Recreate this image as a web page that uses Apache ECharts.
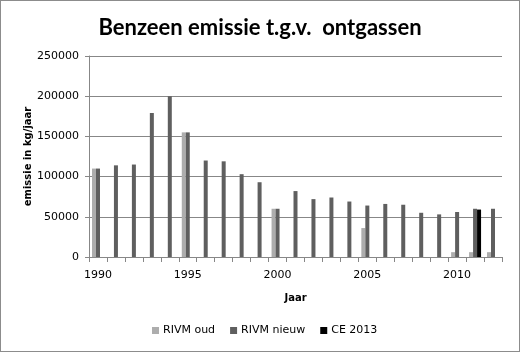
<!DOCTYPE html>
<html>
<head>
<meta charset="utf-8">
<script src="https://cdn.jsdelivr.net/npm/echarts@6/dist/echarts.min.js"></script>
<style>
  html, body { margin: 0; padding: 0; background: #fff; }
  #chart { width: 520px; height: 352px; box-sizing: border-box; border: 1px solid #8c8c8c; }
</style>
</head>
<body>
<div id="chart"></div>
<script>
// jaren 1990 - 2012
var years = ["1990", "1991", "1992", "1993", "1994", "1995", "1996", "1997", "1998", "1999", "2000",
  "2001", "2002", "2003", "2004", "2005", "2006", "2007", "2008", "2009", "2010", "2011", "2012"];

var rivmOud = [110000, null, null, null, null, 155000, null, null, null, null, 60000,
  null, null, null, null, 36000, null, null, null, null, 6000, 6000, 6000];

var rivmNieuw = [110000, 114000, 115000, 179000, 200000, 155000, 120000, 119000, 103000, 93000, 60000,
  82000, 72000, 74000, 69000, 64000, 66000, 65000, 55000, 53000, 56000, 60000, 60000];

var ce2013 = [null, null, null, null, null, null, null, null, null, null, null,
  null, null, null, null, null, null, null, null, null, null, 59000, null];

var chart = echarts.init(document.getElementById("chart"));

var option = {
  animation: false,
  textStyle: { fontFamily: "DejaVu Sans" },
  title: {
    text: "Benzeen emissie t.g.v.  ontgassen",
    left: "center",
    top: 11,
    textStyle: { fontFamily: "Lato", fontWeight: "bold", fontSize: 22, color: "#000" }
  },
  grid: { left: 88, right: 17, top: 55, bottom: 94 },
  legend: {
    bottom: 10,
    left: 146,
    itemWidth: 7,
    itemHeight: 7,
    itemGap: 15,
    icon: "rect",
    textStyle: { fontSize: 11, color: "#000", padding: [0, 0, 0, -1] },
    data: ["RIVM oud", "RIVM nieuw", "CE 2013"]
  },
  xAxis: {
    type: "category",
    data: years,
    name: "Jaar",
    nameLocation: "middle",
    nameGap: 36,
    nameTextStyle: { fontWeight: "bold", fontSize: 10, color: "#000" },
    axisLine: { lineStyle: { color: "#878787" } },
    axisTick: { show: true, interval: 0, length: 5, lineStyle: { color: "#878787" } },
    axisLabel: { interval: 4, fontSize: 11, color: "#000", margin: 13 },
    splitLine: { show: false }
  },
  yAxis: {
    type: "value",
    min: 0,
    max: 250000,
    interval: 50000,
    name: "emissie in kg/jaar",
    nameLocation: "middle",
    nameGap: 56,
    nameMoveOverlap: false,
    nameTextStyle: { fontWeight: "bold", fontSize: 10, color: "#000" },
    axisLine: { show: true, lineStyle: { color: "#878787" } },
    axisTick: { show: true, length: 4, lineStyle: { color: "#878787" } },
    axisLabel: {
      fontSize: 11,
      color: "#000",
      margin: 10,
      formatter: function (value) {
        return String(value);
      }
    },
    splitLine: { lineStyle: { color: "#878787" } }
  },
  series: [
    {
      name: "RIVM oud",
      type: "bar",
      data: rivmOud,
      barWidth: 4,
      barGap: "0%",
      itemStyle: { color: "#adadad" }
    },
    {
      name: "RIVM nieuw",
      type: "bar",
      data: rivmNieuw,
      barWidth: 4,
      barGap: "0%",
      itemStyle: { color: "#5f5f5f" }
    },
    {
      name: "CE 2013",
      type: "bar",
      data: ce2013,
      barWidth: 4,
      barGap: "0%",
      itemStyle: { color: "#000" }
    }
  ]
};

chart.setOption(option);
</script>
</body>
</html>
